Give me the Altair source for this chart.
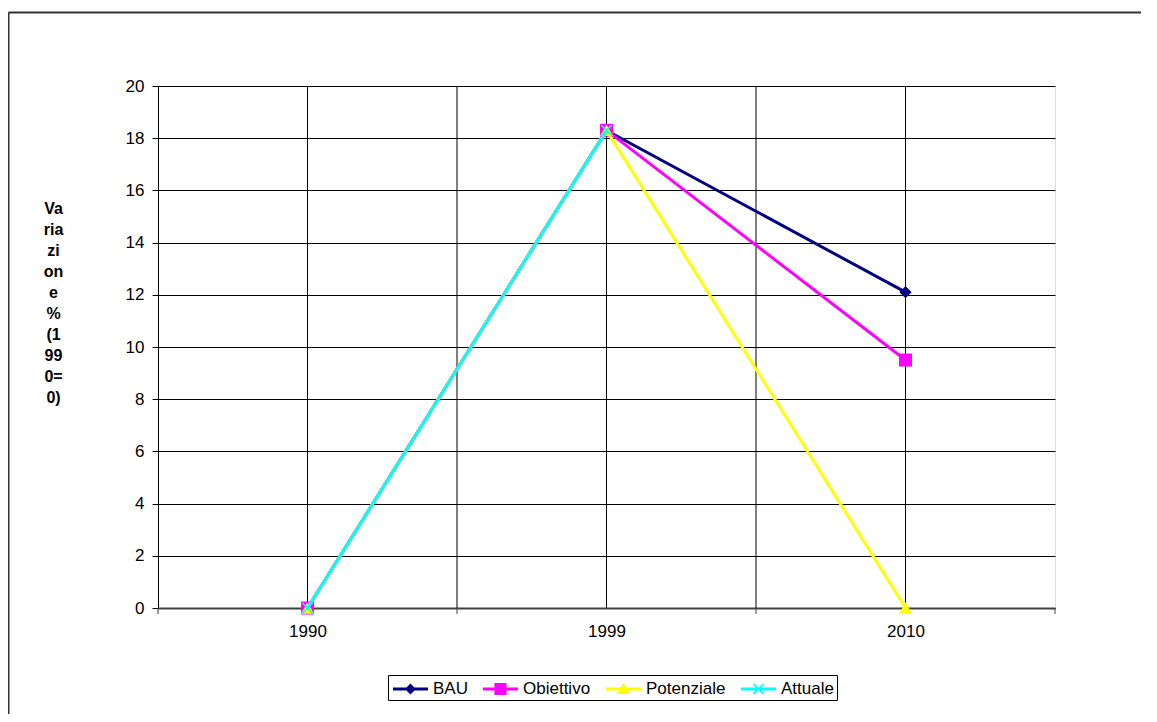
import altair as alt
import pandas as pd

years = ["1990", "1999", "2010"]
series = ["BAU", "Obiettivo", "Potenziale", "Attuale"]
bau = [0.0, 18.3, 12.1]
obiettivo = [0.0, 18.3, 9.5]
potenziale = [0.0, 18.3, 0.0]
attuale = [0.0, 18.3, None]
colors = ["#000080", "#FF00FF", "#FFFF00", "#00FFFF"]
y_ticks = list(range(0, 21, 2))
y_title = ["Va", "ria", "zi", "on", "e", "%", "(1", "99", "0=", "0)"]

values = {"BAU": bau, "Obiettivo": obiettivo, "Potenziale": potenziale, "Attuale": attuale}
rows = []
for s in series:
    for i, (yr, v) in enumerate(zip(years, values[s])):
        if v is not None:
            rows.append({"series": s, "idx": i, "year": yr, "value": v})
df = pd.DataFrame(rows)

vgrid = pd.DataFrame({"g": [0, 0.5, 1, 1.5, 2]})
xticks = pd.DataFrame({"g": [-0.5, 0.5, 1.5, 2.5]})

FONT = "Arial, 'Liberation Sans', sans-serif"
FS = 17
W, H = 897, 522

xscale = alt.Scale(domain=[-0.5, 2.5], nice=False, zero=False)
yscale = alt.Scale(domain=[0, 20], nice=False)

xaxis = alt.Axis(
    values=[0, 1, 2],
    labelExpr="['1990','1999','2010'][datum.value]",
    ticks=False, tickSize=0, grid=False, title=None,
    domainColor="#404040", domainWidth=2,
    labelPadding=15, labelFontSize=FS, labelFont=FONT, labelColor="black",
)
yaxis = alt.Axis(
    values=y_ticks, grid=True, gridColor="black", gridWidth=1, gridOpacity=1,
    tickSize=6, tickColor="black", domainColor="black", domainWidth=1,
    labelPadding=8, labelFontSize=FS, labelFont=FONT, labelColor="black",
    title=y_title, titleAngle=0, titleX=-105, titleY=114,
    titleAlign="center", titleBaseline="top", titleFontWeight="bold",
    titleFontSize=16, titleFont=FONT, titleLineHeight=21, titleColor="black",
)


def X(field="idx"):
    return alt.X(f"{field}:Q", scale=xscale, axis=xaxis)


def Y(field="value"):
    return alt.Y(f"{field}:Q", scale=yscale, axis=yaxis)


layers = []

# outer chart frame (top and left edges; right/bottom lie beyond the window)
one = alt.Data(values=[{}])
layers.append(
    alt.Chart(one).mark_rule(stroke="#333333", strokeWidth=2).encode(
        x=alt.value(-149.5), x2=alt.value(1100), y=alt.value(-73.5)
    )
)
layers.append(
    alt.Chart(one).mark_rule(stroke="#333333", strokeWidth=2).encode(
        x=alt.value(-149.5), y=alt.value(-73.5), y2=alt.value(700)
    )
)

# vertical gridlines
layers.append(
    alt.Chart(vgrid).mark_rule(color="black", strokeWidth=1).encode(x=X("g"))
)
# x tick marks between categories
layers.append(
    alt.Chart(xticks).mark_rule(color="#404040", strokeWidth=1).encode(
        x=X("g"), y=alt.value(H), y2=alt.value(H + 6)
    )
)

marker_shapes = {
    "BAU": ("diamond", 150, True),
    "Obiettivo": ("square", 169, True),
    "Potenziale": ("triangle-up", 170, True),
    "Attuale": ("M-1,-1L1,1M1,-1L-1,1", 110, False),
}

for s, c in zip(series, colors):
    base = alt.Chart(df).transform_filter(alt.datum.series == s)
    layers.append(
        base.mark_line(color=c, strokeWidth=3).encode(x=X(), y=Y())
    )
    shp, size, filled = marker_shapes[s]
    if filled:
        pt = base.mark_point(shape=shp, size=size, filled=True, color=c, opacity=1, strokeWidth=0)
    else:
        pt = base.mark_point(shape=shp, size=size, filled=False, color=c, opacity=1, strokeWidth=1.6)
    layers.append(pt.encode(x=X(), y=Y()))

# legend symbols: line + marker as custom paths
line_p = "M-0.82,-0.136L2.36,-0.136L2.36,0.136L-0.82,0.136Z"
legend_paths = [
    line_p + "M0.77,-0.5L1.27,0L0.77,0.5L0.27,0Z",
    line_p + "M0.22,-0.55L1.32,-0.55L1.32,0.55L0.22,0.55Z",
    line_p + "M0.77,-0.55L1.35,0.45L0.19,0.45Z",
    line_p + "M0.38,-0.51L1.28,0.39L1.16,0.51L0.26,-0.39Z"
    + "M1.16,-0.51L1.28,-0.39L0.38,0.51L0.26,0.39Z",
]
leg = alt.Legend(
    orient="none", legendX=230, legendY=589, direction="horizontal", title=None,
    strokeColor="black", padding=3, symbolSize=484, symbolStrokeWidth=0,
    symbolOpacity=1, labelOffset=20, columnPadding=13, labelFont=FONT,
    labelFontSize=FS, labelColor="black", fillColor="white",
)
legend_layer = alt.Chart(df).transform_filter("false").mark_point(
    filled=True, opacity=1, size=484
).encode(
    x=X(), y=Y(),
    color=alt.Color("series:N", scale=alt.Scale(domain=series, range=colors), legend=leg),
    shape=alt.Shape("series:N", scale=alt.Scale(domain=series, range=legend_paths), legend=leg),
)
layers.append(legend_layer)

chart = alt.layer(*layers).properties(
    width=W, height=H,
    autosize=alt.AutoSizeParams(type="none"),
    padding={"left": 150, "top": 78, "right": 86, "bottom": 106},
).configure_view(
    fill="#C0C0C0", stroke="#808080", strokeWidth=1
).configure(background="white")

chart.save("out.html", embed_options={"renderer": "svg", "actions": False})
